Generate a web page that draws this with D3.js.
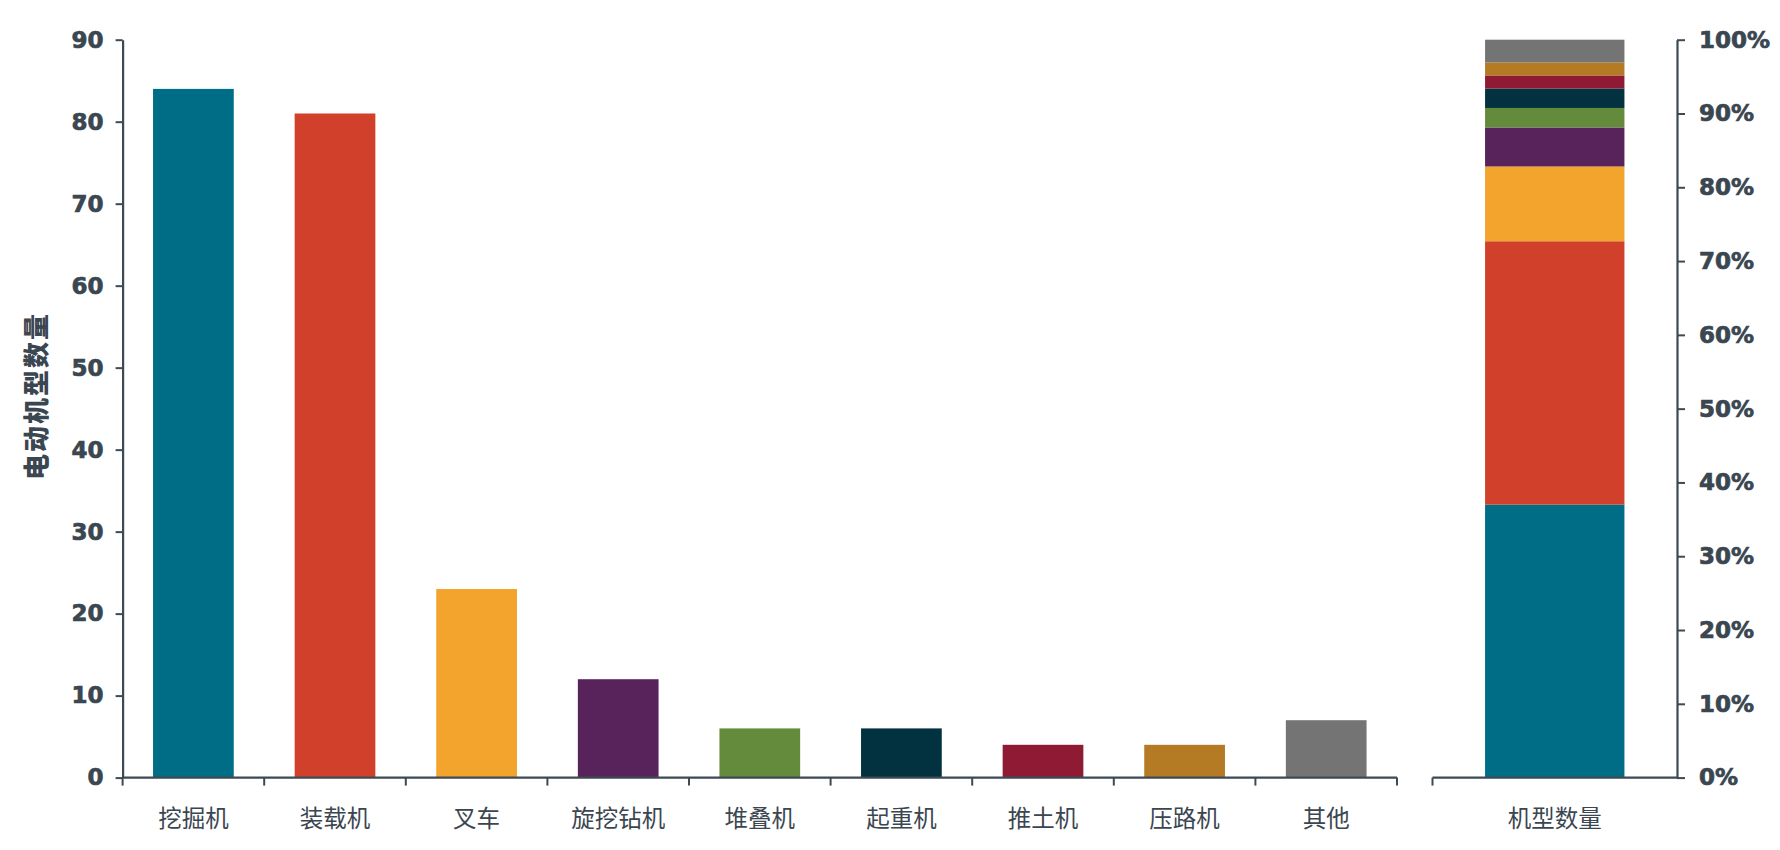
<!DOCTYPE html>
<html>
<head>
<meta charset="utf-8">
<script src="https://cdn.jsdelivr.net/npm/d3@7"></script>
<style>
  html, body { margin: 0; padding: 0; background: #ffffff; }
  svg { display: block; }
</style>
</head>
<body>
<svg id="chart" width="1780" height="850"></svg>
<script>
const categories = ["挖掘机", "装载机", "叉车", "旋挖钻机", "堆叠机", "起重机", "推土机", "压路机", "其他"];
const counts = [84, 81, 23, 12, 6, 6, 4, 4, 7];
const colors = ["#006D86", "#D1402A", "#F2A42C", "#58225A", "#648A3C", "#02323F", "#8E1A33", "#B47A24", "#747474"];
const leftTicks = [0, 10, 20, 30, 40, 50, 60, 70, 80, 90];
const rightTicks = [0, 0.1, 0.2, 0.3, 0.4, 0.5, 0.6, 0.7, 0.8, 0.9, 1.0];
const stackCategory = ["机型数量"];
const yTitle = "电动机型数量";

const svg = d3.select("#chart");
const axisColor = "#3D4A54";
const textColor = "#3A4650";
const numFont = "'DejaVu Sans', sans-serif";
const cjkFont = "'Noto Sans CJK SC', sans-serif";

const yTop = 39.7, yBottom = 777.6;
const y = d3.scaleLinear().domain([0, 90]).range([yBottom, yTop]);
const yPct = d3.scaleLinear().domain([0, 1]).range([yBottom, yTop]);

const x = d3.scaleBand().domain(categories).range([122.6, 1397])
  .paddingInner(0.43).paddingOuter(0.215);
const x2 = d3.scaleBand().domain(stackCategory).range([1432.5, 1677])
  .paddingInner(0.43).paddingOuter(0.215);

// bars
svg.append("g").selectAll("rect").data(categories).join("rect")
  .attr("x", d => x(d))
  .attr("width", x.bandwidth())
  .attr("y", (d, i) => y(counts[i]))
  .attr("height", (d, i) => y(0) - y(counts[i]))
  .attr("fill", (d, i) => colors[i]);

// stacked share bar
const total = d3.sum(counts);
let cum = 0;
const stackData = counts.map((v, i) => {
  const s = { y0: cum / total, y1: (cum + v) / total, color: colors[i] };
  cum += v;
  return s;
});
svg.append("g").selectAll("rect").data(stackData).join("rect")
  .attr("x", x2(stackCategory[0]))
  .attr("width", x2.bandwidth())
  .attr("y", d => yPct(d.y1))
  .attr("height", d => yPct(d.y0) - yPct(d.y1))
  .attr("fill", d => d.color);

function styleNum(sel) {
  sel.attr("fill", textColor).attr("font-family", numFont).attr("font-weight", "bold")
    .attr("font-size", 23).attr("stroke", textColor).attr("stroke-width", 0.7);
}

// left axis
const leftAxis = svg.append("g").attr("transform", `translate(${122.6},0)`)
  .call(d3.axisLeft(y).tickValues(leftTicks).tickSize(7).tickPadding(12).tickSizeOuter(0));
leftAxis.select(".domain").attr("stroke", axisColor).attr("stroke-width", 2.2);
leftAxis.selectAll(".tick line").attr("stroke", axisColor).attr("stroke-width", 2);
styleNum(leftAxis.selectAll(".tick text"));

// right axis
const rightAxis = svg.append("g").attr("transform", `translate(${1677},0)`)
  .call(d3.axisRight(yPct).tickValues(rightTicks).tickFormat(d3.format(".0%")).tickSize(8).tickPadding(14).tickSizeOuter(0));
rightAxis.select(".domain").attr("stroke", axisColor).attr("stroke-width", 2.2);
rightAxis.selectAll(".tick line").attr("stroke", axisColor).attr("stroke-width", 2);
styleNum(rightAxis.selectAll(".tick text"));

// bottom axes
function bottomAxis(scale, x0, x1) {
  const g = svg.append("g");
  g.append("line").attr("x1", x0).attr("x2", x1).attr("y1", yBottom).attr("y2", yBottom)
    .attr("stroke", axisColor).attr("stroke-width", 2.2);
  const step = scale.step();
  const half = step * scale.paddingInner() / 2;
  const bounds = scale.domain().map(d => scale(d) - half);
  bounds.push(scale(scale.domain()[scale.domain().length - 1]) + scale.bandwidth() + half);
  g.selectAll("line.t").data(bounds).join("line").attr("class", "t")
    .attr("x1", d => d).attr("x2", d => d).attr("y1", yBottom).attr("y2", yBottom + 8)
    .attr("stroke", axisColor).attr("stroke-width", 2);
  const ax = g.append("g").attr("transform", `translate(0,${yBottom})`)
    .call(d3.axisBottom(scale).tickSize(0).tickPadding(33));
  ax.select(".domain").remove();
  ax.selectAll(".tick text").attr("fill", textColor).attr("font-family", cjkFont)
    .attr("font-size", 23.5);
  return g;
}
bottomAxis(x, 122.6, 1397);
const g2 = bottomAxis(x2, 1432.5, 1677);
g2.select("line.t:last-of-type").remove();

// y title
svg.append("text")
  .attr("transform", `translate(34,396) rotate(-90)`)
  .attr("text-anchor", "middle").attr("dominant-baseline", "central")
  .attr("font-family", cjkFont).attr("font-weight", 900)
  .attr("font-size", 26).attr("letter-spacing", 2)
  .attr("fill", textColor)
  .text(yTitle);
</script>
</body>
</html>
